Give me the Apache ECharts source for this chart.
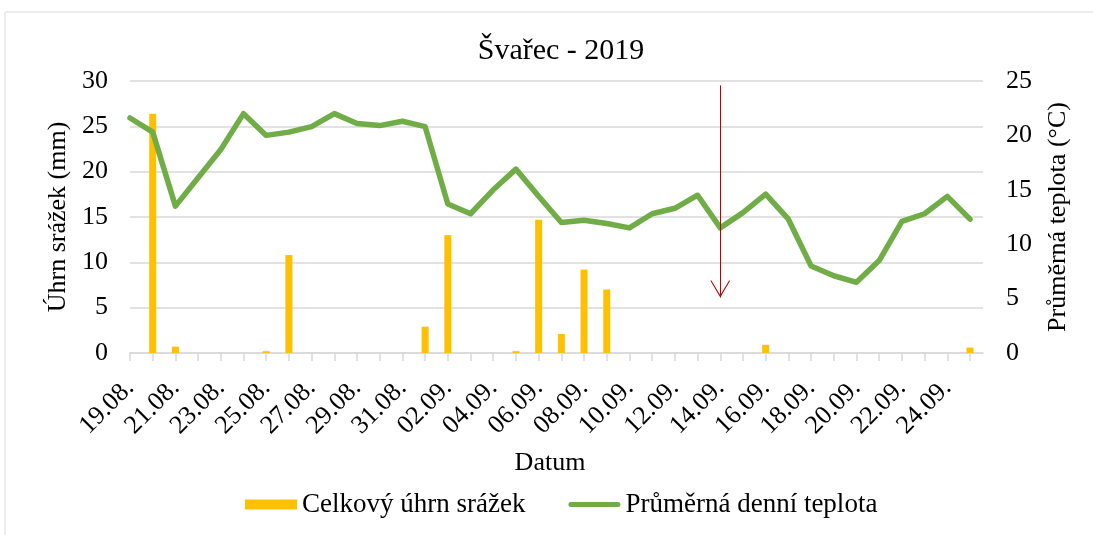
<!DOCTYPE html>
<html>
<head>
<meta charset="utf-8">
<script src="https://cdn.jsdelivr.net/npm/echarts@6/dist/echarts.min.js"></script>
<style>
  html, body { margin: 0; padding: 0; background: #fff; }
  #chart { width: 1093px; height: 535px; }
</style>
</head>
<body>
<div id="chart"></div>
<script>
// dny 19.08. - 25.09.2019
let days = ['19.08.', '20.08.', '21.08.', '22.08.', '23.08.', '24.08.', '25.08.', '26.08.', '27.08.', '28.08.',
  '29.08.', '30.08.', '31.08.', '01.09.', '02.09.', '03.09.', '04.09.', '05.09.', '06.09.', '07.09.',
  '08.09.', '09.09.', '10.09.', '11.09.', '12.09.', '13.09.', '14.09.', '15.09.', '16.09.', '17.09.',
  '18.09.', '19.09.', '20.09.', '21.09.', '22.09.', '23.09.', '24.09.', '25.09.']
// celkový úhrn srážek (mm)
let rain = [0, 26.4, 0.7, 0, 0, 0, 0.2, 10.8, 0, 0,
  0, 0, 0, 2.9, 13.0, 0, 0, 0.2, 14.7, 2.1,
  9.2, 7.0, 0, 0, 0, 0, 0, 0, 0.9, 0,
  0, 0, 0, 0, 0, 0, 0, 0.6]
// průměrná denní teplota (°C)
let temp = [21.6, 20.3, 13.5, 16.1, 18.7, 22.0, 20.0, 20.3, 20.8, 22.0,
  21.1, 20.9, 21.3, 20.8, 13.7, 12.8, 15.0, 16.9, 14.4, 12.0,
  12.2, 11.9, 11.5, 12.8, 13.3, 14.5, 11.5, 12.9, 14.6, 12.3,
  8.0, 7.1, 6.5, 8.5, 12.1, 12.8, 14.4, 12.3]
// šipka (14.09.)
let arrowDay = '14.09.'
let arrowFrom = 24.6
let arrowTo = 5.1

let font = '"Liberation Serif", "Times New Roman", serif'
let gridColor = '#d9d9d9'
// hrot šipky je uprostřed symbolu (nahoře neviditelný bod)
let arrowHead = 'path://M5,-10 L5.01,-10 L5,-9.99 Z M0,10 L5,0 L10,10 L9.4,10 L5,1.4 L0.6,10 Z'

let chart = echarts.init(document.getElementById('chart'))
chart.setOption({
  animation: false,
  textStyle: { fontFamily: font, color: '#000' },
  title: {
    text: 'Švařec - 2019',
    left: 556,
    top: 31,
    textAlign: 'center',
    textStyle: { fontFamily: font, fontSize: 30, fontWeight: 'normal', color: '#000' }
  },
  legend: {
    left: 240,
    top: 486,
    itemWidth: 52,
    itemHeight: 10,
    itemGap: 43,
    textStyle: { fontFamily: font, fontSize: 27, color: '#000' },
    data: [
      { name: 'Celkový úhrn srážek', icon: 'rect' },
      { name: 'Průměrná denní teplota', icon: 'path://M2.5,0 L49.5,0 A2.5,2.5 0 0 1 49.5,5 L2.5,5 A2.5,2.5 0 0 1 2.5,0 Z' }
    ]
  },
  graphic: [{
    type: 'rect',
    shape: { x: 5, y: 12, width: 1100, height: 540 },
    style: { fill: 'none', stroke: gridColor, lineWidth: 1 },
    silent: true
  }],
  grid: [
    { left: 130, top: 81, width: 840, height: 272 },
    { left: 130, top: 81, width: 853, height: 272 }
  ],
  xAxis: [{
    type: 'category',
    data: days,
    boundaryGap: false,
    name: 'Datum',
    nameLocation: 'middle',
    nameGap: 97,
    nameTextStyle: { fontFamily: font, fontSize: 26, color: '#000' },
    axisLine: { show: false },
    axisTick: { show: true, interval: 0, length: 8, lineStyle: { color: gridColor, width: 1.5 } },
    axisLabel: { interval: 1, rotate: 45, margin: 31, fontFamily: font, fontSize: 26, color: '#000' },
    splitLine: { show: false }
  }, {
    type: 'value',
    gridIndex: 1,
    min: 0,
    max: 1,
    axisLine: { show: true, lineStyle: { color: gridColor, width: 1.5 } },
    axisTick: { show: false },
    axisLabel: { show: false },
    splitLine: { show: false }
  }],
  yAxis: [{
    type: 'value',
    min: 0,
    max: 30,
    interval: 5,
    name: 'Úhrn srážek (mm)',
    nameLocation: 'middle',
    nameRotate: 90,
    nameGap: 57,
    nameTextStyle: { fontFamily: font, fontSize: 26, color: '#000' },
    axisLine: { show: false },
    axisTick: { show: false },
    axisLabel: { margin: 22, fontFamily: font, fontSize: 26, color: '#000' },
    splitLine: { show: false }
  }, {
    type: 'value',
    position: 'right',
    min: 0,
    max: 25,
    interval: 5,
    name: 'Průměrná teplota (°C)',
    nameLocation: 'middle',
    nameRotate: 90,
    nameGap: 75,
    nameTextStyle: { fontFamily: font, fontSize: 26, color: '#000' },
    axisLine: { show: false },
    axisTick: { show: false },
    axisLabel: { margin: 36, fontFamily: font, fontSize: 26, color: '#000' },
    splitLine: { show: false }
  }, {
    type: 'value',
    gridIndex: 1,
    min: 0,
    max: 30,
    interval: 5,
    axisLine: { show: false },
    axisTick: { show: false },
    axisLabel: { show: false },
    splitLine: { show: true, lineStyle: { color: gridColor, width: 1.5 } }
  }],
  series: [{
    name: 'Celkový úhrn srážek',
    type: 'bar',
    barWidth: 7,
    itemStyle: { color: '#FFC000' },
    data: rain
  }, {
    name: 'Průměrná denní teplota',
    type: 'line',
    yAxisIndex: 1,
    symbol: 'none',
    lineStyle: { color: '#70AD47', width: 5.5, join: 'round', cap: 'round' },
    itemStyle: { color: '#70AD47' },
    data: temp,
    markLine: {
      silent: true,
      symbol: ['none', arrowHead],
      symbolSize: [20, 34],
      label: { show: false },
      lineStyle: { color: '#C00000', width: 1, type: 'solid' },
      data: [[
        { coord: [arrowDay, arrowFrom] },
        { coord: [arrowDay, arrowTo] }
      ]]
    }
  }]
})
</script>
</body>
</html>
